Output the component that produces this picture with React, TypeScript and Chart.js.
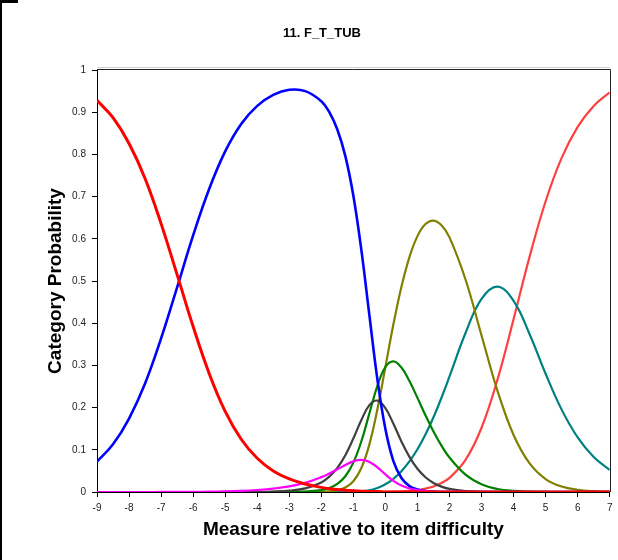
import React, { useEffect, useRef } from "react";
import { Chart, registerables } from "chart.js";

Chart.register(...registerables);

// Person measure relative to item difficulty (logits)
const measures = [
  -9, -8.5, -8, -7.5, -7, -6.5, -6, -5.5, -5, -4.5, -4, -3.5, -3, -2.5, -2, -1.75, -1.5, -1.25, -1, -0.75,
  -0.5, -0.25, 0, 0.25, 0.5, 0.75, 1, 1.25, 1.5, 1.75, 2, 2.5, 3, 3.5, 4, 4.5, 5, 5.5, 6, 6.5, 7,
];

// Category probabilities
const cat0 = [
  0.928, 0.887, 0.826, 0.743, 0.636, 0.515, 0.392, 0.281, 0.191, 0.125, 0.08, 0.05, 0.031, 0.019, 0.011, 0.008,
  0.006, 0.004, 0.003, 0.002, 0.001, 0.001, 0, 0, 0, 0, 0, 0, 0, 0, 0, 0, 0, 0, 0, 0, 0, 0, 0, 0, 0,
];
const cat1 = [
  0.072, 0.113, 0.174, 0.257, 0.364, 0.485, 0.608, 0.718, 0.807, 0.872, 0.915, 0.941, 0.953, 0.95, 0.926, 0.9,
  0.859, 0.796, 0.702, 0.573, 0.419, 0.267, 0.149, 0.073, 0.033, 0.014, 0.006, 0.002, 0.001, 0, 0, 0, 0, 0, 0, 0,
  0, 0, 0, 0, 0,
];
const cat2 = [
  0, 0, 0, 0, 0.0001, 0.0002, 0.0004, 0.0008, 0.0015, 0.0027, 0.0047, 0.008, 0.0133, 0.0219, 0.0352, 0.0439,
  0.0539, 0.064, 0.0725, 0.076, 0.0713, 0.0585, 0.0417, 0.0264, 0.0153, 0.0083, 0.0043, 0.0021, 0.001, 0.0005,
  0.0002, 0, 0, 0, 0, 0, 0, 0, 0, 0, 0,
];
const cat3 = [
  0, 0, 0, 0, 0, 0, 0, 0, 0.0001, 0.0001, 0.0004, 0.0012, 0.0032, 0.0086, 0.0227, 0.0363, 0.0572, 0.0873,
  0.1269, 0.1707, 0.2058, 0.2166, 0.1985, 0.1615, 0.1199, 0.0833, 0.055, 0.0349, 0.0215, 0.0128, 0.0074, 0.0023,
  0.0006, 0.0001, 0, 0, 0, 0, 0, 0, 0,
];
const cat4 = [
  0, 0, 0, 0, 0, 0, 0, 0, 0, 0, 0, 0.0001, 0.0002, 0.001, 0.0046, 0.0094, 0.019, 0.0373, 0.0696, 0.1203, 0.1862,
  0.2517, 0.2962, 0.3094, 0.2949, 0.263, 0.2231, 0.1819, 0.1435, 0.1098, 0.0816, 0.0413, 0.0185, 0.0072, 0.0025,
  0.0008, 0.0002, 0, 0, 0, 0,
];
const cat5 = [
  0, 0, 0, 0, 0, 0, 0, 0, 0, 0, 0, 0, 0, 0.0001, 0.0006, 0.0016, 0.0043, 0.0107, 0.0256, 0.0568, 0.1129, 0.196,
  0.2962, 0.3973, 0.4863, 0.5567, 0.6063, 0.6349, 0.6431, 0.6319, 0.6033, 0.5035, 0.3709, 0.2392, 0.135, 0.0676,
  0.0307, 0.013, 0.0052, 0.002, 0.0008,
];
const cat6 = [
  0, 0, 0, 0, 0, 0, 0, 0, 0, 0, 0, 0, 0, 0, 0, 0, 0.0001, 0.0002, 0.0006, 0.0016, 0.0042, 0.0094, 0.0182, 0.0313,
  0.0492, 0.0724, 0.1012, 0.1361, 0.177, 0.2234, 0.2738, 0.3768, 0.4576, 0.4865, 0.4528, 0.3739, 0.2801, 0.1952,
  0.1294, 0.083, 0.0521,
];
const cat7 = [
  0, 0, 0, 0, 0, 0, 0, 0, 0, 0, 0, 0, 0, 0, 0, 0, 0, 0, 0, 0, 0, 0.0001, 0.0003, 0.0007, 0.0014, 0.0025, 0.0046,
  0.0079, 0.0131, 0.0213, 0.0335, 0.0761, 0.1523, 0.267, 0.4097, 0.5578, 0.689, 0.7918, 0.8653, 0.9149, 0.9471,
];

const xTicks = [-9, -8, -7, -6, -5, -4, -3, -2, -1, 0, 1, 2, 3, 4, 5, 6, 7];
const xTickLabels = ["-9", "-8", "-7", "-6", "-5", "-4", "-3", "-2", "-1", "0", "1", "2", "3", "4", "5", "6", "7"];
const yTicks = [0, 0.1, 0.2, 0.3, 0.4, 0.5, 0.6, 0.7, 0.8, 0.9, 1];
const yTickLabels = ["0", "0.1", "0.2", "0.3", "0.4", "0.5", "0.6", "0.7", "0.8", "0.9", "1"];

const chartTitle = "11. F_T_TUB";
const xTitle = "Measure relative to item difficulty";
const yTitle = "Category Probability";

const FONT = "'Liberation Sans', Arial, Helvetica, sans-serif";

export default function App() {
  const ref = useRef<HTMLCanvasElement>(null);

  useEffect(() => {
    const canvas = ref.current;
    if (!canvas) return;
    const pts = (vals: number[]) => measures.map((x, i) => ({ x, y: vals[i] }));

    const bgPlugin = {
      id: "bg",
      beforeDraw(chart: any) {
        const c = chart.ctx;
        c.save();
        c.fillStyle = "#ffffff";
        c.fillRect(0, 0, chart.width, chart.height);
        c.restore();
      },
    };
    const framePlugin = {
      id: "frame",
      afterDraw(chart: any) {
        const c = chart.ctx;
        const a = chart.chartArea;
        c.save();
        c.lineWidth = 1;
        c.strokeStyle = "#d0d0d0";
        c.beginPath();
        c.moveTo(a.left, Math.round(a.top) - 2.5);
        c.lineTo(a.right, Math.round(a.top) - 2.5);
        c.stroke();
        c.strokeStyle = "#222222";
        c.beginPath();
        c.moveTo(a.left, Math.round(a.top) - 0.5);
        c.lineTo(Math.round(a.right) + 0.5, Math.round(a.top) - 0.5);
        c.lineTo(Math.round(a.right) + 0.5, a.bottom);
        c.stroke();
        c.fillStyle = "#000000";
        c.fillRect(0, 0, 2, chart.height);
        c.fillRect(0, 0, 18, 3);
        c.restore();
      },
    };

    const ds = (label: string, vals: number[], color: string, width: number) => ({
      label,
      data: pts(vals),
      borderColor: color,
      backgroundColor: color,
      borderWidth: width,
      pointRadius: 0,
      fill: false,
      tension: 0.4,
    });

    const axisGrid = {
      drawOnChartArea: false,
      drawTicks: true,
      tickLength: 5,
      tickColor: "#000000",
      color: "#000000",
    };

    const chart = new Chart(canvas, {
      type: "line",
      data: {
        datasets: [
          ds("0", cat0, "#ff0000", 3),
          ds("2", cat2, "#ff00ff", 2.2),
          ds("1", cat1, "#0000ff", 2.6),
          ds("3", cat3, "#404040", 2.2),
          ds("4", cat4, "#008000", 2.2),
          ds("5", cat5, "#808000", 2.2),
          ds("6", cat6, "#008080", 2.2),
          ds("7", cat7, "#ff4040", 2.2),
        ],
      },
      options: {
        animation: false,
        responsive: false,
        devicePixelRatio: 1,
        layout: { padding: { left: 33, right: 7, top: 0, bottom: 0 } },
        plugins: {
          legend: { display: false },
          tooltip: { enabled: false },
          title: {
            display: true,
            text: chartTitle,
            color: "#000000",
            font: { family: FONT, size: 13, weight: "bold" },
            padding: { top: 26, bottom: 28.4 },
          },
        },
        scales: {
          x: {
            type: "linear",
            min: -9,
            max: 7,
            afterBuildTicks: (s: any) => {
              s.ticks = xTicks.map((v) => ({ value: v }));
            },
            afterFit: (s: any) => {
              s.height = 68;
            },
            ticks: {
              autoSkip: false,
              maxRotation: 0,
              padding: 5.5,
              color: "#222222",
              font: { family: FONT, size: 10 },
              callback: (_v: any, i: number) => xTickLabels[i],
            },
            grid: axisGrid,
            border: { display: true, color: "#000000", width: 1 },
            title: {
              display: true,
              text: xTitle,
              color: "#000000",
              font: { family: FONT, size: 19, weight: "bold" },
              padding: { top: 0, bottom: 18.6 },
            },
          },
          y: {
            type: "linear",
            min: 0,
            max: 1,
            afterBuildTicks: (s: any) => {
              s.ticks = yTicks.map((v) => ({ value: v }));
            },
            afterFit: (s: any) => {
              s.width = 64;
            },
            ticks: {
              padding: 6,
              color: "#222222",
              font: { family: FONT, size: 10 },
              callback: (_v: any, i: number) => yTickLabels[i],
            },
            grid: axisGrid,
            border: { display: true, color: "#000000", width: 1 },
            title: {
              display: true,
              text: yTitle,
              color: "#000000",
              font: { family: FONT, size: 19, weight: "bold" },
              padding: { top: 10.9, bottom: 0 },
            },
          },
        },
      } as any,
      plugins: [bgPlugin, framePlugin],
    });

    return () => chart.destroy();
  }, []);

  return (
    <div style={{ position: "fixed", left: 0, top: 0, width: 618, height: 560, background: "#ffffff" }}>
      <canvas ref={ref} width={618} height={560} style={{ display: "block", width: 618, height: 560 }} />
    </div>
  );
}
